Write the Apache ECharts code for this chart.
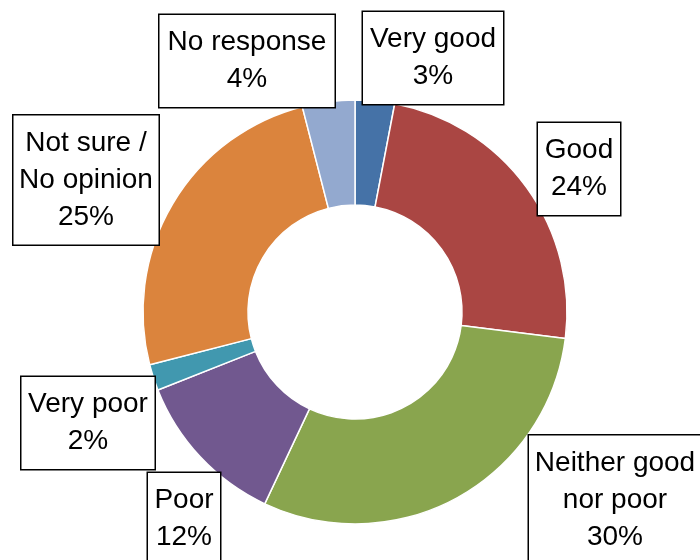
<!DOCTYPE html>
<html>
<head>
<meta charset="utf-8">
<script src="https://cdn.jsdelivr.net/npm/echarts@6/dist/echarts.min.js"></script>
<style>
  html, body { margin: 0; padding: 0; background: #fff; }
  #chart { width: 700px; height: 560px; }
</style>
</head>
<body>
<div id="chart"></div>
<script>
// 类别与数值
var categories = ['Very good', 'Good', 'Neither good\nnor poor', 'Poor', 'Very poor', 'Not sure /\nNo opinion', 'No response'];
var values = [3, 24, 30, 12, 2, 25, 4];
var colors = ['#4572A7', '#AA4643', '#89A54E', '#71588F', '#4198AF', '#DB843D', '#93A9CF'];

// 标签框中心位置与文字宽度
var labelSpots = [[433, 58], [579, 169], [615, 500], [184, 519], [88, 423], [86, 180], [247, 61]];
var labelWidths = [128, 70, 160, 60, 121, 133, 163];

var pieData = categories.map(function (name, i) {
    return {
        name: name,
        value: values[i],
        itemStyle: { color: colors[i] },
        label: { width: labelWidths[i] }
    };
});

var myChart = echarts.init(document.getElementById('chart'));
myChart.setOption({
    animation: false,
    series: [{
        type: 'pie',
        center: [355, 312],
        radius: [107, 212],
        startAngle: 90,
        clockwise: true,
        data: pieData,
        itemStyle: { borderColor: '#fff', borderWidth: 1.5 },
        label: {
            show: true,
            formatter: '{b}\n{c}%',
            fontFamily: 'Liberation Sans, Arial, sans-serif',
            fontSize: 28,
            lineHeight: 37,
            color: '#000',
            align: 'center',
            overflow: 'none',
            backgroundColor: '#fff',
            borderColor: '#000',
            borderWidth: 1.5,
            padding: [9, 6]
        },
        labelLine: { show: false },
        labelLayout: function (params) {
            var p = labelSpots[params.dataIndex];
            return { x: p[0], y: p[1], align: 'center', verticalAlign: 'middle' };
        }
    }]
});
</script>
</body>
</html>
